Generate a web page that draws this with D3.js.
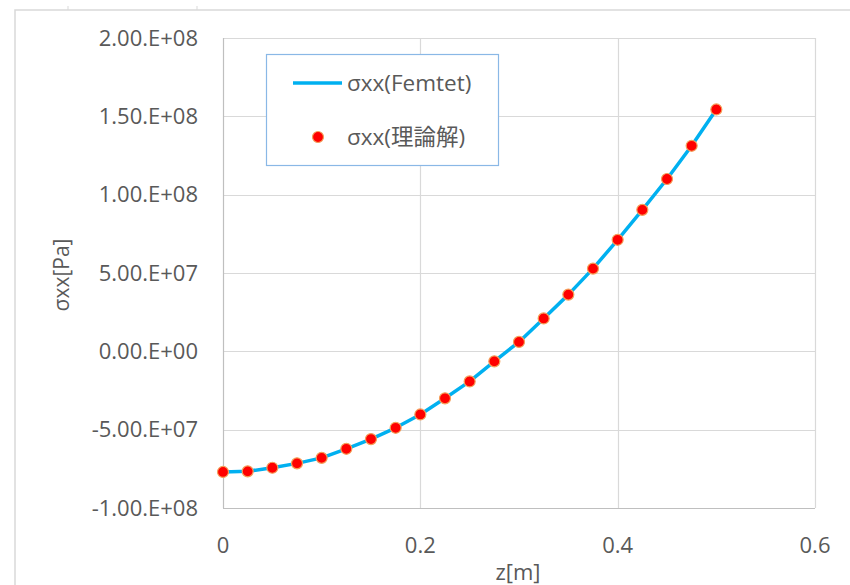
<!DOCTYPE html>
<html lang="ja">
<head>
<meta charset="UTF-8">
<title>σxx</title>
<style>
  body { margin: 0; background: #fff; }
  svg text { font-family: "Open Sans", "Noto Sans", "Noto Sans CJK JP", sans-serif; fill: #595959; }
</style>
</head>
<body>
<svg id="chart" width="850" height="585"></svg>
<script src="https://d3js.org/d3.v7.min.js"></script>
<script>
  // data
  const zValues = [0, 0.025, 0.05, 0.075, 0.1, 0.125, 0.15, 0.175, 0.2, 0.225, 0.25,
                   0.275, 0.3, 0.325, 0.35, 0.375, 0.4, 0.425, 0.45, 0.475, 0.5];
  const sxxFemtet = [-7.7e7, -7.66e7, -7.43e7, -7.15e7, -6.8e7, -6.22e7, -5.6e7, -4.88e7,
                     -4.03e7, -3.0e7, -1.92e7, -0.64e7, 0.6e7, 2.1e7, 3.62e7, 5.28e7,
                     7.12e7, 9.03e7, 1.10e8, 1.312e8, 1.544e8];
  const sxxTheory = [-7.7e7, -7.66e7, -7.43e7, -7.15e7, -6.8e7, -6.22e7, -5.6e7, -4.88e7,
                     -4.03e7, -3.0e7, -1.92e7, -0.64e7, 0.6e7, 2.1e7, 3.62e7, 5.28e7,
                     7.12e7, 9.03e7, 1.10e8, 1.312e8, 1.544e8];
  const xTicks = [0, 0.2, 0.4, 0.6];
  const yTicks = [-1e8, -5e7, 0, 5e7, 1e8, 1.5e8, 2e8];
  const seriesNames = ["σxx(Femtet)", "σxx(理論解)"];

  const svg = d3.select("#chart");
  const plotLeft = 223, plotRight = 815, plotTop = 38, plotBottom = 508;

  const x = d3.scaleLinear().domain([0, 0.6]).range([plotLeft, plotRight]);
  const y = d3.scaleLinear().domain([-1e8, 2e8]).range([plotBottom, plotTop]);

  // outer chart frame (partly visible)
  svg.append("path")
    .attr("d", `M15,585 V10 H850`)
    .attr("fill", "none")
    .attr("stroke", "#d9d9d9")
    .attr("stroke-width", 1.5);
  svg.append("g").selectAll("line").data([68, 197]).join("line")
    .attr("x1", d => d).attr("x2", d => d).attr("y1", 6).attr("y2", 10)
    .attr("stroke", "#d9d9d9");

  // grid
  svg.append("g").selectAll("line").data(yTicks).join("line")
    .attr("x1", plotLeft).attr("x2", plotRight)
    .attr("y1", d => Math.round(y(d)) + 0.5).attr("y2", d => Math.round(y(d)) + 0.5)
    .attr("stroke", d => d === -1e8 ? "#bfbfbf" : "#d9d9d9")
    .attr("stroke-width", 1.2);
  svg.append("g").selectAll("line").data(xTicks).join("line")
    .attr("y1", plotTop).attr("y2", plotBottom)
    .attr("x1", d => Math.round(x(d)) + 0.5).attr("x2", d => Math.round(x(d)) + 0.5)
    .attr("stroke", d => d === 0 ? "#bfbfbf" : "#d9d9d9")
    .attr("stroke-width", 1.2);

  // tick labels
  const fmtY = v => {
    const s = v.toExponential(2).replace("e", "E").replace(/E([+-])(\d)$/, "E$10$2");
    return s.replace(/^(-?\d\.\d\d)E/, "$1.E");
  };
  svg.append("g").selectAll("text").data(yTicks).join("text")
    .attr("x", 198).attr("y", d => y(d)).attr("dy", "0.35em")
    .attr("text-anchor", "end").attr("font-size", 22)
    .text(fmtY);
  svg.append("g").selectAll("text").data(xTicks).join("text")
    .attr("x", d => x(d)).attr("y", 545).attr("dy", "0.35em")
    .attr("text-anchor", "middle").attr("font-size", 22)
    .text(d => d);

  // axis titles
  svg.append("text")
    .attr("x", 518).attr("y", 572).attr("dy", "0.35em")
    .attr("text-anchor", "middle").attr("font-size", 22)
    .text("z[m]");
  svg.append("text")
    .attr("transform", `translate(62,275) rotate(-90)`)
    .attr("dy", "0.35em")
    .attr("text-anchor", "middle").attr("font-size", 21)
    .text("σxx[Pa]");

  // series
  const line = d3.line().x((d, i) => x(zValues[i])).y(d => y(d));
  svg.append("path")
    .datum(sxxFemtet)
    .attr("d", line)
    .attr("fill", "none")
    .attr("stroke", "#00b0f0")
    .attr("stroke-width", 3.5)
    .attr("stroke-linejoin", "round");

  svg.append("g").selectAll("circle").data(sxxTheory).join("circle")
    .attr("cx", (d, i) => x(zValues[i]))
    .attr("cy", d => y(d))
    .attr("r", 5.5)
    .attr("fill", "#ff0000")
    .attr("stroke", "#f4a05a")
    .attr("stroke-width", 1.2);

  // legend
  const lg = svg.append("g");
  lg.append("rect")
    .attr("x", 266.5).attr("y", 54.5).attr("width", 232).attr("height", 111)
    .attr("fill", "#fff").attr("stroke", "#8ab8e6").attr("stroke-width", 1.2);
  lg.append("line")
    .attr("x1", 293).attr("x2", 342).attr("y1", 83).attr("y2", 83)
    .attr("stroke", "#00b0f0").attr("stroke-width", 3.5);
  lg.append("circle")
    .attr("cx", 318).attr("cy", 137).attr("r", 5.5)
    .attr("fill", "#ff0000").attr("stroke", "#f4a05a").attr("stroke-width", 1.2);
  lg.selectAll("text").data(seriesNames).join("text")
    .attr("x", 347).attr("y", (d, i) => i === 0 ? 83 : 137).attr("dy", "0.35em")
    .attr("font-size", 22.5)
    .text(d => d);
</script>
</body>
</html>
